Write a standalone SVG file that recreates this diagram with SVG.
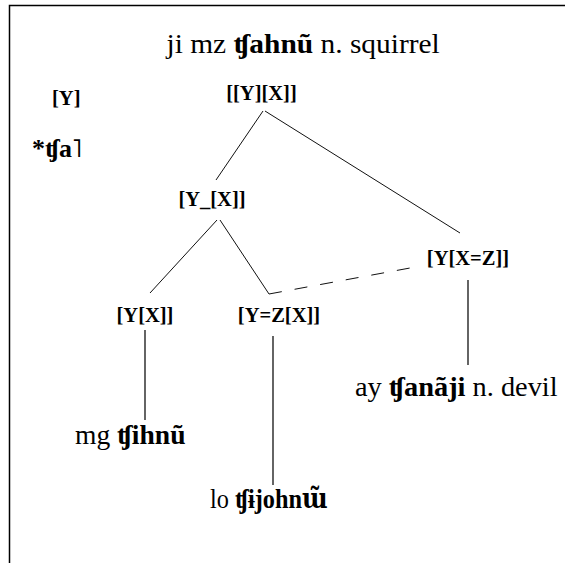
<svg xmlns="http://www.w3.org/2000/svg" width="565" height="563" viewBox="0 0 565 563">
<rect x="0" y="0" width="565" height="563" fill="#fff"/>
<path d="M9.5 563V5.5H565" stroke="#000" stroke-width="1.5" fill="none"/>
<g id="title"><text font-family="Liberation Serif" font-size="27" transform="translate(166.5,53) scale(1.09,1)">ji mz <tspan font-weight="bold">ʧahnũ</tspan> n. squirrel</text></g>
<g id="legendY"><text font-family="Liberation Serif" font-size="20.5" font-weight="bold" x="52" y="105">[Y]</text></g>
<g id="proto"><text font-family="Liberation Serif" font-size="26" font-weight="bold" x="32" y="157">*ʧa˥</text></g>
<g id="root"><text font-family="Liberation Serif" font-size="20.5" font-weight="bold" text-anchor="middle" x="261.5" y="100">[[Y][X]]</text></g>
<g id="yx1"><text font-family="Liberation Serif" font-size="20.5" font-weight="bold" text-anchor="middle" x="212" y="206">[Y_[X]]</text></g>
<g id="yxz"><text font-family="Liberation Serif" font-size="20.5" font-weight="bold" text-anchor="middle" x="468" y="265">[Y[X=Z]]</text></g>
<g id="yx"><text font-family="Liberation Serif" font-size="20.5" font-weight="bold" text-anchor="middle" x="145" y="322">[Y[X]]</text></g>
<g id="yzx"><text font-family="Liberation Serif" font-size="20.5" font-weight="bold" text-anchor="middle" x="279" y="322">[Y=Z[X]]</text></g>
<g id="ay"><text font-family="Liberation Serif" font-size="27" transform="translate(355,396) scale(1.05,1)">ay <tspan font-weight="bold">ʧanãji</tspan> n. devil</text></g>
<g id="mg"><text font-family="Liberation Serif" font-size="27" transform="translate(75,444) scale(1.02,1)">mg <tspan font-weight="bold">ʧihnũ</tspan></text></g>
<g id="lo"><text font-family="Liberation Serif" font-size="27" transform="translate(210,508) scale(0.9,1)">lo <tspan font-weight="bold">ʧɨjohn<tspan font-family="DejaVu Serif">ɯ̃</tspan></tspan></text></g>
<g id="connectors" stroke="#111" stroke-width="1" fill="none">
<line x1="263" y1="111" x2="216" y2="180"/>
<line x1="265" y1="111" x2="460" y2="233"/>
<line x1="217" y1="220" x2="150" y2="293"/>
<line x1="220" y1="220" x2="269" y2="294"/>
<line x1="269" y1="294" x2="410" y2="268" stroke-dasharray="13 13"/>
<line x1="468" y1="280" x2="468" y2="365" stroke-width="1.3"/>
<line x1="145" y1="330" x2="145" y2="420" stroke-width="1.3"/>
<line x1="273" y1="336" x2="273" y2="485" stroke-width="1.3"/>
</g>
</svg>
